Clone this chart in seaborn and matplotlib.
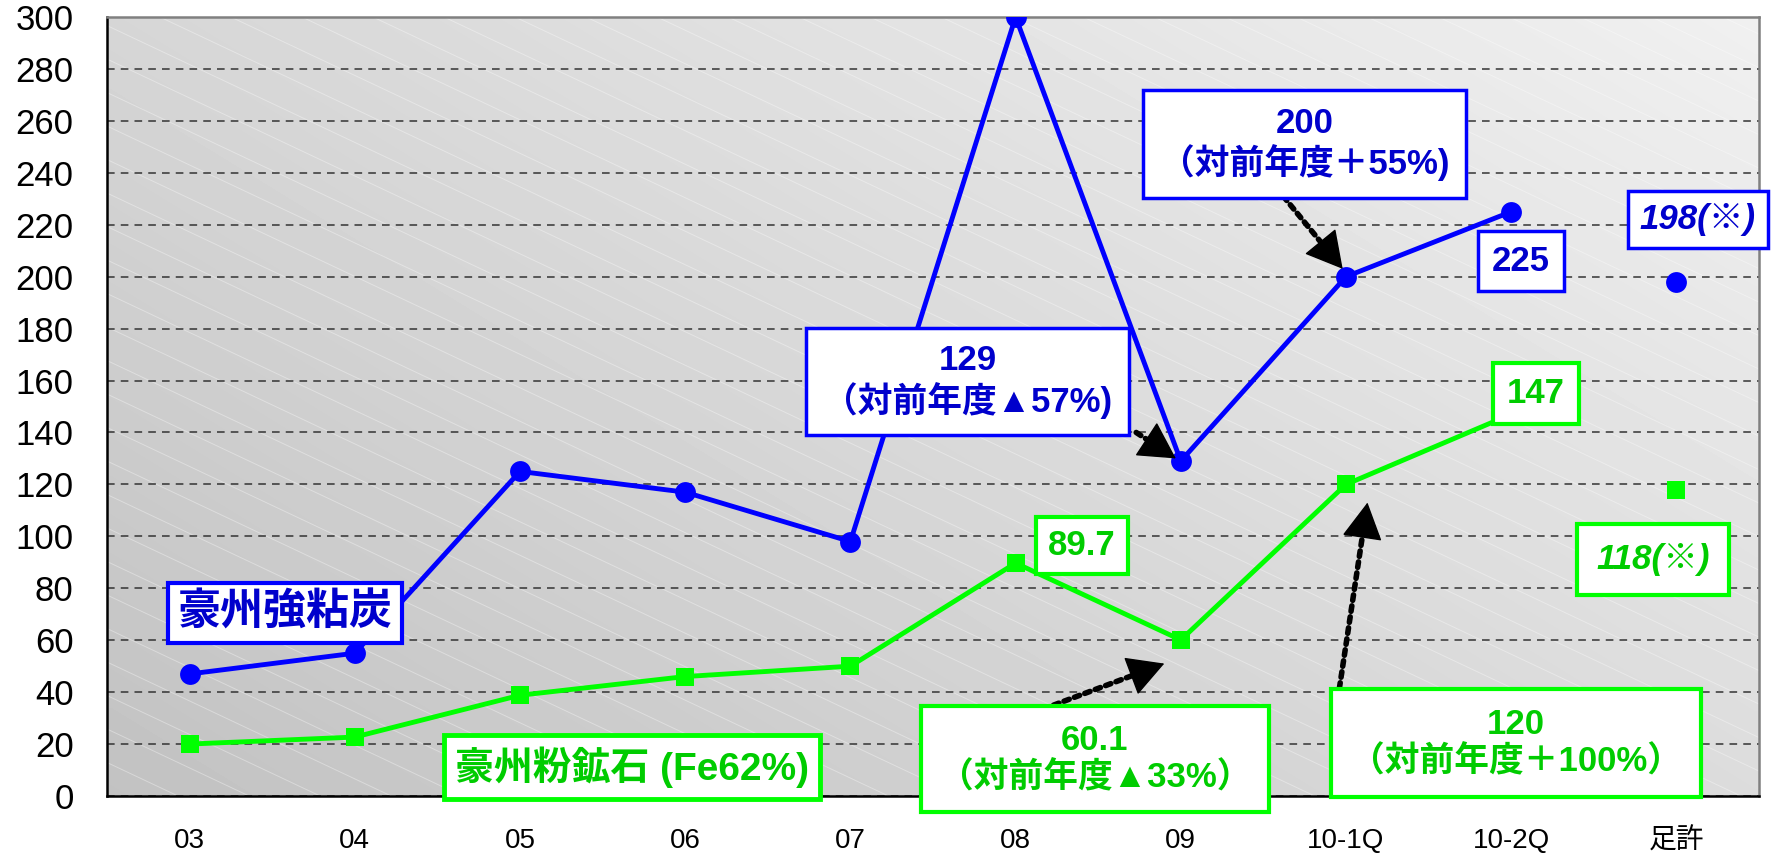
import numpy as np
import pandas as pd
import matplotlib
matplotlib.use('Agg')
import matplotlib.pyplot as plt
import seaborn as sns
from matplotlib.collections import LineCollection

# データ
categories = ['03', '04', '05', '06', '07', '08', '09', '10-1Q', '10-2Q', '足許']
coal = [47, 55, 125, 117, 98, 300, 129, 200, 225]       # 豪州強粘炭 (03〜10-2Q)
ore = [20, 22.7, 38.8, 46, 50, 89.7, 60.1, 120, 147]     # 豪州粉鉱石(Fe62%)
coal_spot = 198                                          # 足許
ore_spot = 118
y_ticks = list(range(0, 301, 20))

BLUE_LINE = '#0000ff'
BLUE_TEXT = '#0000cc'
GREEN_LINE = '#00ff00'
GREEN_TEXT = '#00cc00'

sns.set_style('white')
plt.rcParams['font.family'] = ['Liberation Sans', 'Noto Sans CJK JP', 'DejaVu Sans']

fig, ax = plt.subplots(figsize=(17.85, 8.55), dpi=100)
fig.subplots_adjust(left=107 / 1785, right=1759 / 1785, bottom=1 - 796 / 855, top=1 - 17 / 855)

pos = np.arange(len(categories))
n = len(coal)

# 背景のグラデーション + 斜線
gx, gy = np.meshgrid(np.linspace(0, 1, 200), np.linspace(0, 1, 200))
shade = (194 + 20 * gy + 26 * gx) / 255
ax.imshow(shade, cmap='gray', vmin=0, vmax=1, origin='lower', aspect='auto',
          extent=(pos[0] - 0.5, pos[-1] + 0.5, 0, 300), zorder=0, interpolation='bilinear')
offs = np.arange(0.0, 2.05, 0.043)
segs = [[(c - 1, 1), (c, 0)] for c in offs]
ax.add_collection(LineCollection(segs, colors='white', linewidths=0.7, alpha=0.35,
                                 transform=ax.transAxes, zorder=0.5))

df = pd.DataFrame({'pos': pos[:n], 'coal': coal, 'ore': ore})
sns.lineplot(data=df, x='pos', y='coal', color=BLUE_LINE, lw=3.5, marker='o', markersize=15,
             markeredgewidth=0, ax=ax, zorder=3)
sns.lineplot(data=df, x='pos', y='ore', color=GREEN_LINE, lw=3.5, marker='s', markersize=13,
             markeredgewidth=0, ax=ax, zorder=3)
sns.scatterplot(x=[pos[-1]], y=[coal_spot], color=BLUE_LINE, marker='o', s=225, linewidth=0, ax=ax, zorder=3)
sns.scatterplot(x=[pos[-1]], y=[ore_spot], color=GREEN_LINE, marker='s', s=169, linewidth=0, ax=ax, zorder=3)

ax.set_xlim(pos[0] - 0.5, pos[-1] + 0.5)
ax.set_ylim(0, 300)
ax.set_yticks(y_ticks)
ax.set_xticks(pos)
ax.set_xticklabels(categories)
ax.set_xticks(pos[:-1] + 0.5, minor=True)
ax.set_xlabel('')
ax.set_ylabel('')
ax.yaxis.grid(True, linestyle=(0, (5, 4)), color='#333333', lw=1.1)
ax.xaxis.grid(False)
ax.tick_params(axis='y', direction='in', length=6, width=1.2, pad=24, labelsize=25, colors='black')
ax.tick_params(axis='x', which='major', length=0, pad=23, labelsize=20, colors='black')
ax.tick_params(axis='x', which='minor', direction='in', length=7, width=1.2, color='black')
for side in ['left', 'bottom']:
    ax.spines[side].set_color('black')
    ax.spines[side].set_linewidth(1.8)
for side in ['top', 'right']:
    ax.spines[side].set_color('#808080')
    ax.spines[side].set_linewidth(1.8)


def box(txt, x, y, tcol, ecol, size, pad=0.4, lw=2.5, style='normal'):
    ax.annotate(txt, xy=(x, y), ha='center', va='center', fontsize=size, fontweight='bold',
                fontstyle=style, color=tcol, multialignment='center', linespacing=1.15,
                annotation_clip=False, zorder=6,
                bbox=dict(boxstyle=f'square,pad={pad}', facecolor='white', edgecolor=ecol, lw=lw))


HEAD_PX = 32


def arrow(start, end):
    # 点線の軸
    p0 = ax.transData.transform(start)
    p1 = ax.transData.transform(end)
    u = (p1 - p0) / np.hypot(*(p1 - p0))
    base = ax.transData.inverted().transform(p1 - u * HEAD_PX)
    ax.annotate('', xy=base, xytext=start, zorder=5, annotation_clip=False,
                arrowprops=dict(arrowstyle='-', color='black', lw=4, linestyle=(0, (1, 1)),
                                shrinkA=0, shrinkB=0))
    # 矢じり
    ax.annotate('', xy=end, xytext=base, zorder=5, annotation_clip=False,
                arrowprops=dict(arrowstyle='-|>,head_length=1.0,head_width=0.55', color='black',
                                lw=1, mutation_scale=24, shrinkA=0, shrinkB=0))


arrow((6.62, 231), (6.98, 203))
arrow((5.73, 140), (5.97, 130))
arrow((5.23, 35), (5.90, 51))
arrow((6.96, 41.5), (7.13, 113))

box('豪州強粘炭', 0.58, 70.5, BLUE_TEXT, BLUE_LINE, 31, pad=0.22, lw=3)
box('豪州粉鉱石 (Fe62%)', 2.68, 11.2, GREEN_TEXT, GREEN_LINE, 28, pad=0.28, lw=3.5)
box('129\n（対前年度▲57%)', 4.71, 159.6, BLUE_TEXT, BLUE_LINE, 25, pad=0.48)
box('200\n（対前年度＋55%)', 6.75, 251, BLUE_TEXT, BLUE_LINE, 25, pad=0.48)
box(str(coal[-1]), 8.06, 206, BLUE_TEXT, BLUE_LINE, 25, pad=0.4)
box(f'{coal_spot}(※)', 9.13, 222, BLUE_TEXT, BLUE_LINE, 25, pad=0.35, style='italic')
box(str(ore[-1]), 8.15, 155, GREEN_TEXT, GREEN_LINE, 25, pad=0.4, lw=3)
box(str(ore[5]), 5.40, 96.5, GREEN_TEXT, GREEN_LINE, 25, pad=0.35, lw=3)
box(f'{ore_spot}(※)', 8.86, 91, GREEN_TEXT, GREEN_LINE, 25, pad=0.55, lw=3, style='italic')
box(f'{ore[6]}\n（対前年度▲33%）', 5.48, 14.2, GREEN_TEXT, GREEN_LINE, 25, pad=0.5, lw=3)
box(f'{ore[7]:.0f}\n（対前年度＋100%）', 8.03, 20.4, GREEN_TEXT, GREEN_LINE, 25, pad=0.55, lw=3)

fig.savefig('out.png', dpi=100)
